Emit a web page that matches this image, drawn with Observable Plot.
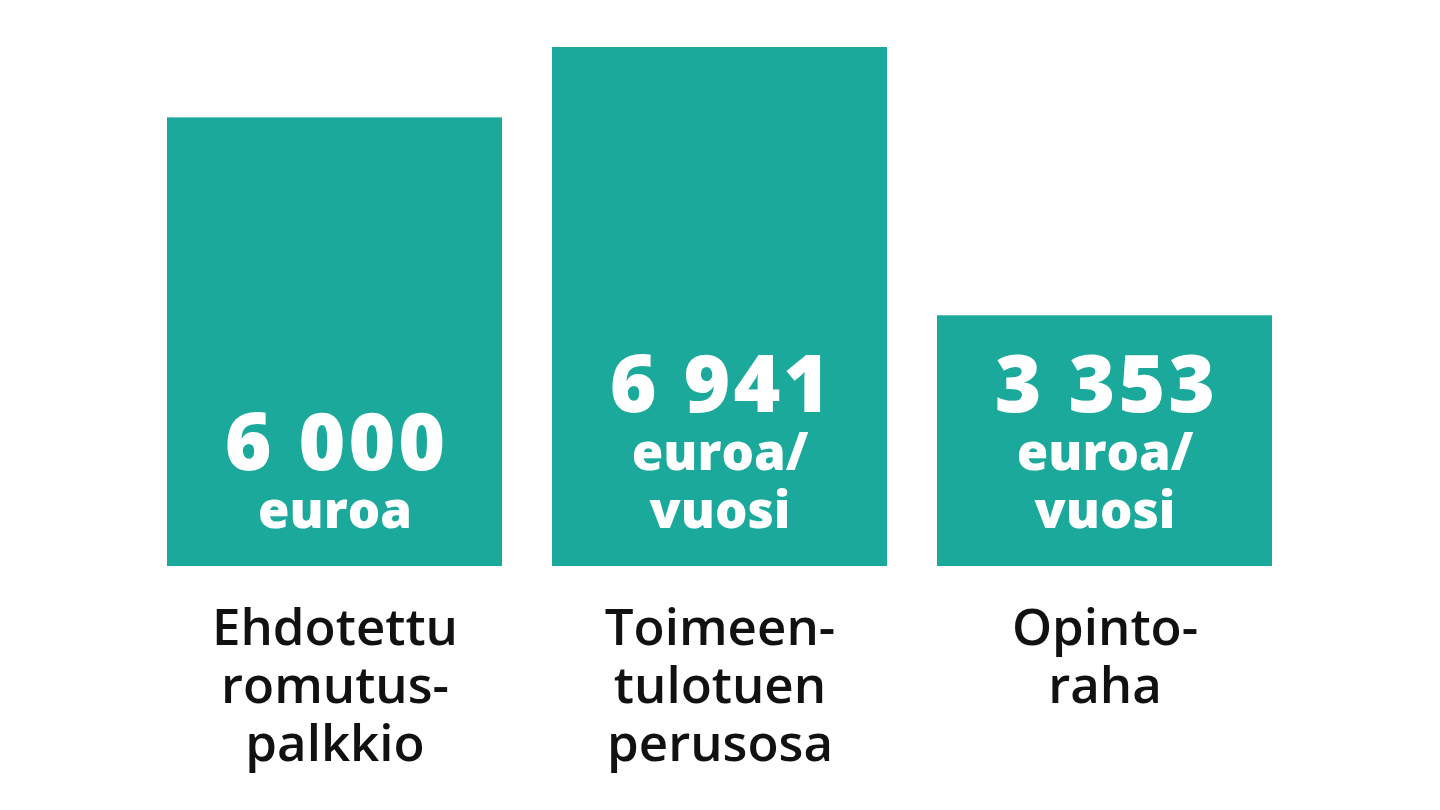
<!DOCTYPE html>
<html>
<head>
<meta charset="utf-8">
<script src="https://cdn.jsdelivr.net/npm/d3@7"></script>
<script src="https://cdn.jsdelivr.net/npm/@observablehq/plot@0.6"></script>
<style>
  html, body { margin: 0; padding: 0; background: #fff; }
  #chart svg { display: block; }
  .num text { letter-spacing: 3px; }
</style>
</head>
<body>
<div id="chart"></div>
<script>
const categories = ["Ehdotettu\nromutus-\npalkkio", "Toimeen-\ntulotuen\nperusosa", "Opinto-\nraha"];
const values = [6000, 6941, 3353];
const valueLabels = ["6 000", "6 941", "3 353"];
const unitLabels = ["euroa", "euroa/\nvuosi", "euroa/\nvuosi"];

const data = categories.map((c, i) => ({
  category: c,
  value: values[i],
  label: valueLabels[i],
  unit: unitLabels[i],
  unitLines: unitLabels[i].split("\n").length
}));

const teal = "#1ba99c";
const font = "'Open Sans', 'Noto Sans', sans-serif";
const unitSize = 51, unitLineHeight = 1.13;
const bottomPad = 39;
const lineStep = unitSize * unitLineHeight;

const lineCounts = Array.from(new Set(data.map(d => d.unitLines)));

const chart = Plot.plot({
  width: 1440,
  height: 810,
  marginTop: 47,
  marginBottom: 244,
  marginLeft: 167,
  marginRight: 168,
  style: {fontFamily: font, background: "#fff"},
  x: {domain: categories, paddingInner: 0.13, paddingOuter: 0, axis: null},
  y: {domain: [0, 6941], axis: null},
  marks: [
    Plot.barY(data, {x: "category", y: "value", fill: teal}),
    Plot.text(data, {
      x: "category", y: 0, text: "unit",
      fill: "white", fontSize: unitSize, fontWeight: 800,
      lineAnchor: "bottom", lineHeight: unitLineHeight, dy: -bottomPad
    }),
    ...lineCounts.map(k => Plot.text(data, {
      filter: d => d.unitLines === k,
      x: "category", y: 0, text: "label",
      fill: "white", fontSize: 80, fontWeight: 800,
      lineAnchor: "bottom", dy: -(bottomPad + lineStep * k), dx: 1.5,
      className: "num"
    })),
    Plot.axisX({
      domain: categories, tickSize: 0, tickPadding: 38,
      fontSize: 51, fontWeight: 600, fill: "#111",
      lineHeight: 1.13, label: null,
      tickFormat: d => d
    })
  ]
});

document.getElementById("chart").appendChild(chart);
</script>
</body>
</html>
